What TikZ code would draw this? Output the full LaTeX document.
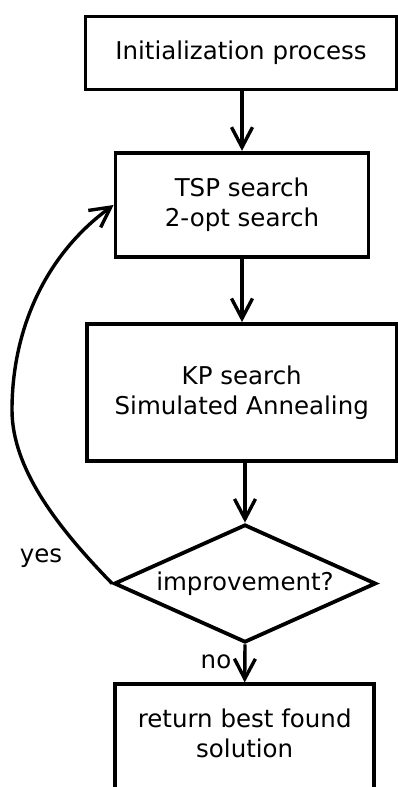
\documentclass[tikz,border=0pt]{standalone}
\usepackage{fontspec}
\setmainfont{DejaVu Sans}
\usetikzlibrary{arrows.meta,shapes.geometric}
\newcommand\flowfont{\fontsize{24.5}{30}\selectfont}
\begin{document}
\begin{tikzpicture}[x=1pt,y=-1pt,
  box/.style={draw, rectangle, line width=3.8pt, inner sep=0pt, align=center, font=\flowfont},
  decision/.style={draw, diamond, line width=3.8pt, inner sep=0pt, aspect=2.2, font=\flowfont},
  arr/.style={line width=3.4pt, -{Straight Barb[length=20pt,width=21pt]}},
  lbl/.style={font=\flowfont, inner sep=0pt, anchor=base}]
\useasboundingbox (0,0) rectangle (398,787);
\clip (0,0) rectangle (398,787);

% process steps
\node[box, minimum width=311pt, minimum height=73pt] (init) at (241,53) {Initialization process};
\node[box, minimum width=253pt, minimum height=104.5pt] (tsp) at (242,205) {TSP search\\2-opt search};
\node[box, minimum width=309.5pt, minimum height=137pt] (kp) at (241.75,392.5) {KP search\\Simulated Annealing};
\node[decision, minimum width=262pt, minimum height=118pt] (imp) at (245,583.5) {improvement?};
\node[box, anchor=north, minimum width=259.3pt, inner ysep=25pt] (ret) at (244.7,682.4)
  {return best found\\solution\rule[-30pt]{0pt}{0pt}};

% main flow
\draw[arr] (init.south -| tsp.north) -- (tsp.north);
\draw[arr] (tsp.south) -- (tsp.south |- kp.north);
\draw[arr] (kp.south -| imp.north) -- (imp.north);
\draw[arr] (imp.south) -- (ret.north);

% loop back on improvement
\coordinate (bend) at (12,410);
\draw[arr] (imp.west) .. controls (60,530) and (12,470) .. (bend)
  .. controls (12,330) and (45,255) .. (tsp.west);

% branch labels
\node[lbl] (yes) at (41,562) {yes};
\node[lbl] (no) at (216,668) {no};
\end{tikzpicture}
\end{document}
